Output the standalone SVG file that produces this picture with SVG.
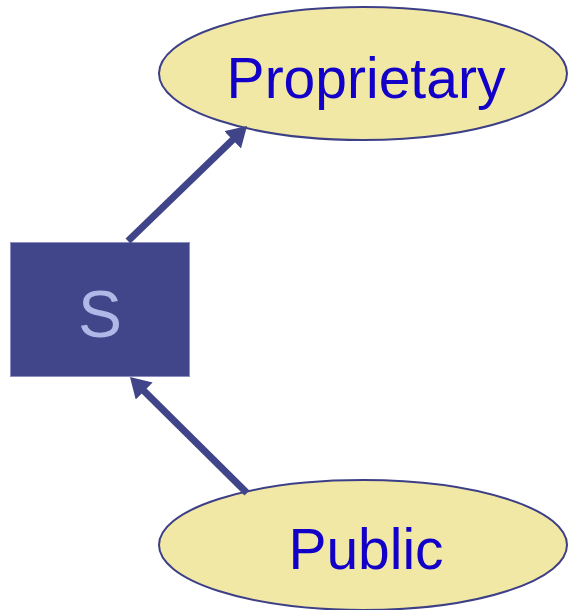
<svg xmlns="http://www.w3.org/2000/svg" width="568" height="610" viewBox="0 0 568 610">
<style>
.ell{fill:#f2e8a6;stroke:#3c3f86;stroke-width:2}
.lbl{font-family:"Liberation Sans",Arial,sans-serif;font-size:57px;fill:#1200c8;text-anchor:middle}
.conn{stroke:#404488;stroke-width:7;fill:none}
</style>
<defs>
<marker id="ah" viewBox="0 0 20 24" refX="8" refY="12" markerWidth="20" markerHeight="24" markerUnits="userSpaceOnUse" orient="auto">
<path d="M0,0 L20,12 L0,24 z" fill="#404488"/>
</marker>
</defs>
<rect width="568" height="610" fill="#ffffff"/>
<g id="proprietary">
<ellipse class="ell" cx="363" cy="73.5" rx="204" ry="66.5"/>
<text class="lbl" x="366" y="98">Proprietary</text>
</g>
<g id="public">
<ellipse class="ell" cx="363" cy="545" rx="204" ry="65"/>
<text class="lbl" x="366" y="569">Public</text>
</g>
<g id="s">
<rect x="10.5" y="242.5" width="179" height="134" fill="#414589" stroke="#8a8fc0" stroke-width="1"/>
<text x="100" y="337" font-family="'Liberation Sans',Arial,sans-serif" font-size="66" fill="#b0b8e8" text-anchor="middle">S</text>
</g>
<g id="connectors">
<line class="conn" x1="128" y1="241" x2="238.4" y2="134.3" marker-end="url(#ah)"/>
<line class="conn" x1="247" y1="493" x2="138.5" y2="385.4" marker-end="url(#ah)"/>
</g>
</svg>
